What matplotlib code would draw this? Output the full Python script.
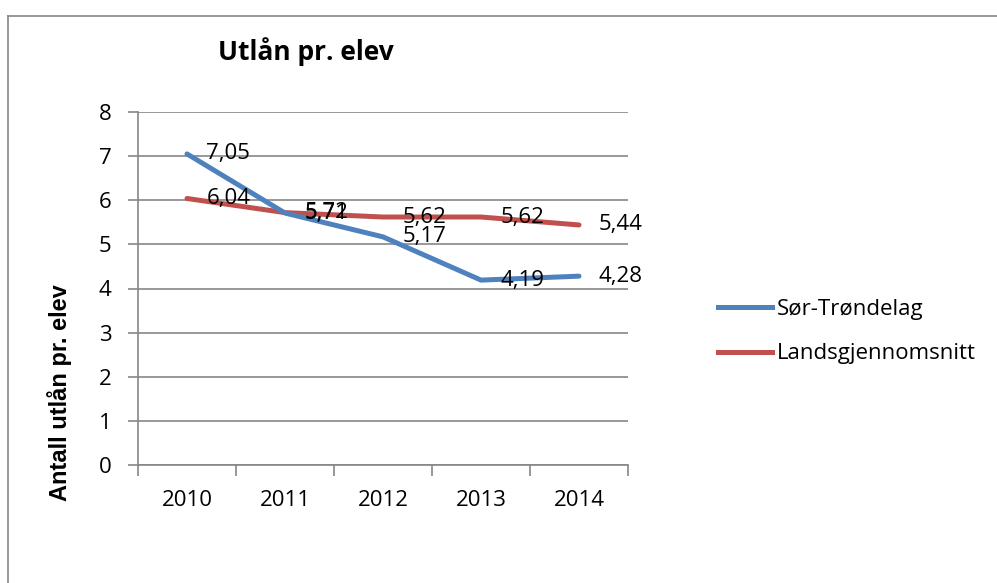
import matplotlib
matplotlib.use("Agg")
import matplotlib.pyplot as plt
from matplotlib.lines import Line2D

years = ["2010", "2011", "2012", "2013", "2014"]
sor_trondelag = [7.05, 5.71, 5.17, 4.19, 4.28]
landsgjennomsnitt = [6.04, 5.72, 5.62, 5.62, 5.44]
series_names = ["Sør-Trøndelag", "Landsgjennomsnitt"]
colors = ["#4F81BD", "#C0504D"]

FONT = "Open Sans"
FS = 16
W, H = 997, 583
fig = plt.figure(figsize=(W / 100, H / 100), dpi=100)
fig.patch.set_facecolor("white")

# outer chart border (left and top visible)
fig.add_artist(Line2D([8 / W, 8 / W], [0, 1 - 16 / H], transform=fig.transFigure, color="#868686", lw=1.2))
fig.add_artist(Line2D([8 / W, 1], [1 - 16 / H, 1 - 16 / H], transform=fig.transFigure, color="#868686", lw=1.2))

left, right, top, bottom = 138, 628, 112, 465
ax = fig.add_axes([left / W, 1 - bottom / H, (right - left) / W, (bottom - top) / H])
x = list(range(len(years)))
zs = [4, 3]
for vals, c, name, z in zip([sor_trondelag, landsgjennomsnitt], colors, series_names, zs):
    ax.plot(x, vals, color=c, lw=3.6, solid_capstyle="round", solid_joinstyle="round", label=name, zorder=z)

ax.set_xlim(-0.5, len(years) - 0.5)
ax.set_ylim(0, 8)
ax.set_yticks(range(0, 9))
ax.yaxis.grid(True, color="#868686", lw=1.2)
ax.set_axisbelow(True)
for s in ["top", "right"]:
    ax.spines[s].set_visible(False)
for s in ["left", "bottom"]:
    ax.spines[s].set_color("#868686")
    ax.spines[s].set_linewidth(1.2)
ax.set_xticks([i - 0.5 for i in range(len(years) + 1)], minor=False)
ax.set_xticklabels([])
ax.set_xticks(x, minor=True)
ax.set_xticklabels(years, minor=True, fontsize=FS, family=FONT)
ax.tick_params(axis="x", which="major", length=8, color="#868686", width=1.2, direction="out")
ax.tick_params(axis="x", which="minor", length=0, pad=18)
ax.tick_params(axis="y", length=7, color="#868686", width=1.2, labelsize=FS, pad=12)
for t in ax.get_yticklabels():
    t.set_family(FONT)

for vals in [sor_trondelag, landsgjennomsnitt]:
    for i, v in enumerate(vals):
        ax.annotate(f"{v:.2f}".replace(".", ","), (i, v), xytext=(14, 0), textcoords="offset points",
                    va="center", ha="left", fontsize=FS, family=FONT, zorder=6)

fig.text(60 / W, 1 - 393 / H, "Antall utlån pr. elev", fontsize=17, fontweight="bold",
         family="Liberation Sans", rotation=90, ha="center", va="center")

fig.text(306 / W, 1 - 52 / H, "Utlån pr. elev", fontsize=19, fontweight="bold", family=FONT,
         ha="center", va="center")

handles = [Line2D([], [], color=c, lw=3.6) for c in colors]
fig.legend(handles, series_names, loc="upper left", bbox_to_anchor=(709 / W, 1 - 290 / H),
           frameon=False, prop={"family": FONT, "size": FS}, handlelength=2.45,
           handletextpad=0.2, labelspacing=1.06, borderaxespad=0)

fig.savefig("out.png", dpi=100, facecolor="white")
